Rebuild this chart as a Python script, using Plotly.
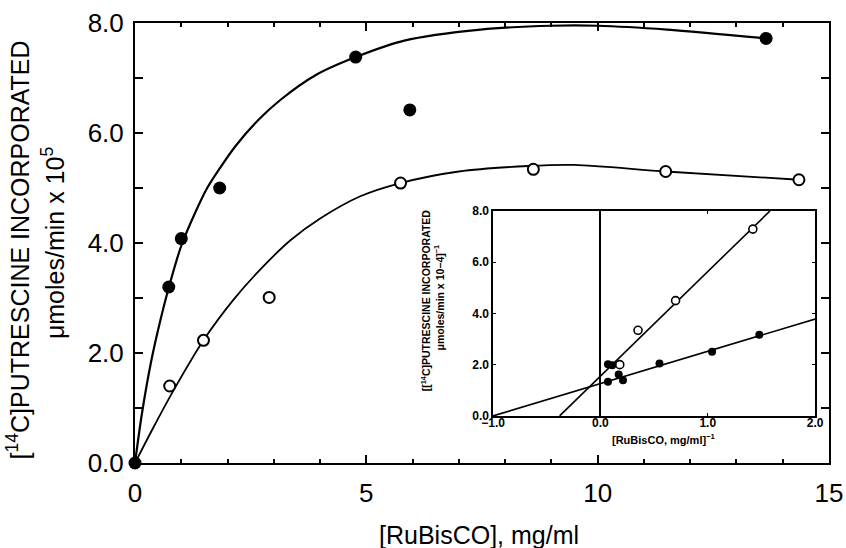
import plotly.graph_objects as go

# ---------------- main panel data ----------------
filled_x = [0.0, 0.73, 1.0, 1.83, 4.77, 5.94, 13.64]
filled_y = [0.0, 3.2, 4.08, 5.0, 7.38, 6.42, 7.72]
open_x = [0.75, 1.48, 2.9, 5.74, 8.61, 11.47, 14.35]
open_y = [1.4, 2.23, 3.01, 5.09, 5.34, 5.30, 5.15]

# fitted curves as drawn in the figure
filled_curve_x = [0.0, 0.15, 0.35, 0.55, 0.75, 1.0, 1.3, 1.56, 1.81, 2.17, 2.67, 3.14,
                  3.9, 4.77, 5.82, 7.47, 9.0, 10.0, 11.5, 13.64]
filled_curve_y = [0.0, 0.9, 1.85, 2.6, 3.25, 3.95, 4.55, 5.0, 5.33, 5.76, 6.24, 6.6,
                  7.05, 7.38, 7.68, 7.88, 7.95, 7.95, 7.88, 7.72]
open_curve_x = [0.0, 0.4, 0.8, 1.48, 2.13, 2.71, 3.36, 4.01, 4.87, 5.74, 7.0, 8.5,
                9.5, 11.47, 14.35]
open_curve_y = [0.0, 0.65, 1.27, 2.23, 2.97, 3.52, 4.05, 4.45, 4.85, 5.09, 5.3, 5.4,
                5.42, 5.30, 5.15]

# ---------------- inset (double reciprocal) data ----------------
inset_open_x = [0.18, 0.35, 0.70, 1.42]
inset_open_y = [2.0, 3.34, 4.5, 7.29]
inset_filled_x = [0.07, 0.11, 0.07, 0.17, 0.21, 0.55, 1.04, 1.48]
inset_filled_y = [2.02, 1.98, 1.33, 1.62, 1.39, 2.05, 2.5, 3.17]
inset_open_line_x = [-0.38, 1.58]
inset_open_line_y = [0.0, 8.0]
inset_filled_line_x = [-1.0, 2.0]
inset_filled_line_y = [0.0, 3.78]

main_ticks_x = [0, 5, 10, 15]
main_ticks_y = [0, 2, 4, 6, 8]
inset_ticks_x = [-1, 0, 1, 2]
inset_ticks_y = [0, 2, 4, 6, 8]

FONT = "Liberation Sans, Arial, sans-serif"
fig = go.Figure()

# main curves
fig.add_trace(go.Scatter(x=filled_curve_x, y=filled_curve_y, mode="lines",
                         line=dict(color="black", width=2.2, shape="spline", smoothing=0.8),
                         xaxis="x", yaxis="y", hoverinfo="skip"))
fig.add_trace(go.Scatter(x=open_curve_x, y=open_curve_y, mode="lines",
                         line=dict(color="black", width=1.8, shape="spline", smoothing=0.8),
                         xaxis="x", yaxis="y", hoverinfo="skip"))
fig.add_trace(go.Scatter(x=open_x, y=open_y, mode="markers",
                         marker=dict(symbol="circle", size=11, color="white",
                                     line=dict(color="black", width=2)),
                         cliponaxis=False, xaxis="x", yaxis="y"))
fig.add_trace(go.Scatter(x=filled_x, y=filled_y, mode="markers",
                         marker=dict(symbol="circle", size=13, color="black",
                                     line=dict(width=0)),
                         cliponaxis=False, xaxis="x", yaxis="y"))

# inset
fig.add_trace(go.Scatter(x=inset_open_line_x, y=inset_open_line_y, mode="lines",
                         line=dict(color="black", width=1.6), xaxis="x2", yaxis="y2"))
fig.add_trace(go.Scatter(x=inset_filled_line_x, y=inset_filled_line_y, mode="lines",
                         line=dict(color="black", width=1.6), xaxis="x2", yaxis="y2"))
fig.add_trace(go.Scatter(x=inset_open_x, y=inset_open_y, mode="markers",
                         marker=dict(symbol="circle", size=8, color="white",
                                     line=dict(color="black", width=1.6)),
                         xaxis="x2", yaxis="y2"))
fig.add_trace(go.Scatter(x=inset_filled_x, y=inset_filled_y, mode="markers",
                         marker=dict(symbol="circle", size=8, color="black", line=dict(width=0)),
                         xaxis="x2", yaxis="y2"))

axis_common = dict(showline=True, linecolor="black", mirror="ticks", showgrid=False,
                   zeroline=False, ticks="inside", tickcolor="black", automargin=False)

fig.update_layout(
    width=846, height=548,
    margin=dict(l=135, r=17, t=23, b=85),
    paper_bgcolor="white", plot_bgcolor="white",
    showlegend=False,
    font=dict(family=FONT, color="black"),
    xaxis=dict(**axis_common, range=[0, 15], linewidth=2, tickwidth=2, ticklen=8,
               tickvals=main_ticks_x, ticktext=[str(v) for v in main_ticks_x],
               tickfont=dict(size=26, family=FONT), ticklabelstandoff=6,
               minor=dict(dtick=1, ticks="inside", ticklen=4, tickwidth=1.5, tickcolor="black"),
               domain=[0, 1], anchor="y"),
    yaxis=dict(**axis_common, range=[0, 8], linewidth=2, tickwidth=2, ticklen=8,
               tickvals=main_ticks_y, ticktext=[f"{v:.1f}" for v in main_ticks_y],
               tickfont=dict(size=26, family=FONT), ticklabelstandoff=4,
               minor=dict(dtick=1, ticks="inside", ticklen=8, tickwidth=1.5, tickcolor="black"),
               domain=[0, 1], anchor="x"),
    xaxis2=dict(showline=True, linecolor="black", mirror="ticks", showgrid=False,
                ticks="inside", tickcolor="black", ticklen=3, tickwidth=1, automargin=False,
                range=[-1, 2], linewidth=1.5, ticklabelstandoff=-5,
                tickvals=inset_ticks_x, ticktext=["−1.0", "0.0", "1.0", "2.0"],
                tickfont=dict(size=12, family=FONT, weight="bold"),
                zeroline=True, zerolinecolor="black", zerolinewidth=1.5,
                domain=[0.516, 0.980], anchor="y2"),
    yaxis2=dict(showline=True, linecolor="black", mirror="ticks", showgrid=False,
                ticks="inside", tickcolor="black", ticklen=3, tickwidth=1, automargin=False,
                range=[0, 8], linewidth=1.5, zeroline=False,
                tickvals=inset_ticks_y, ticktext=[f"{v:.1f}" for v in inset_ticks_y],
                tickfont=dict(size=12, family=FONT, weight="bold"),
                domain=[0.107, 0.573], anchor="x2"),
)

# main axis titles
fig.add_annotation(text="[RuBisCO], mg/ml", xref="paper", yref="paper",
                   x=0.496, y=-0.164, showarrow=False, xanchor="center", yanchor="middle",
                   font=dict(size=25, family=FONT))
fig.add_annotation(text="[<sup>14</sup>C]PUTRESCINE INCORPORATED", xref="paper", yref="paper",
                   x=-0.168, y=0.484, showarrow=False, textangle=-90,
                   xanchor="center", yanchor="middle", font=dict(size=25, family=FONT))
fig.add_annotation(text="μmoles/min x 10<sup>5</sup>", xref="paper", yref="paper",
                   x=-0.118, y=0.50, showarrow=False, textangle=-90,
                   xanchor="center", yanchor="middle", font=dict(size=25, family=FONT))

# inset titles
fig.add_annotation(text="[RuBisCO, mg/ml]<sup>−1</sup>", xref="paper", yref="paper",
                   x=0.762, y=0.055, showarrow=False, xanchor="center", yanchor="middle",
                   font=dict(size=11, family=FONT, weight="bold"))
fig.add_annotation(text="[[<sup>14</sup>C]PUTRESCINE INCORPORATED", xref="paper", yref="paper",
                   x=0.418, y=0.370, showarrow=False, textangle=-90,
                   xanchor="center", yanchor="middle", font=dict(size=10.5, family=FONT, weight="bold"))
fig.add_annotation(text="μmoles/min x 10−4]<sup>−1</sup>", xref="paper", yref="paper",
                   x=0.437, y=0.377, showarrow=False, textangle=-90,
                   xanchor="center", yanchor="middle", font=dict(size=10.5, family=FONT, weight="bold"))

fig.write_html("out.html", config={"displayModeBar": False},
               post_script="document.body.style.margin='0';document.body.style.overflow='hidden';")
